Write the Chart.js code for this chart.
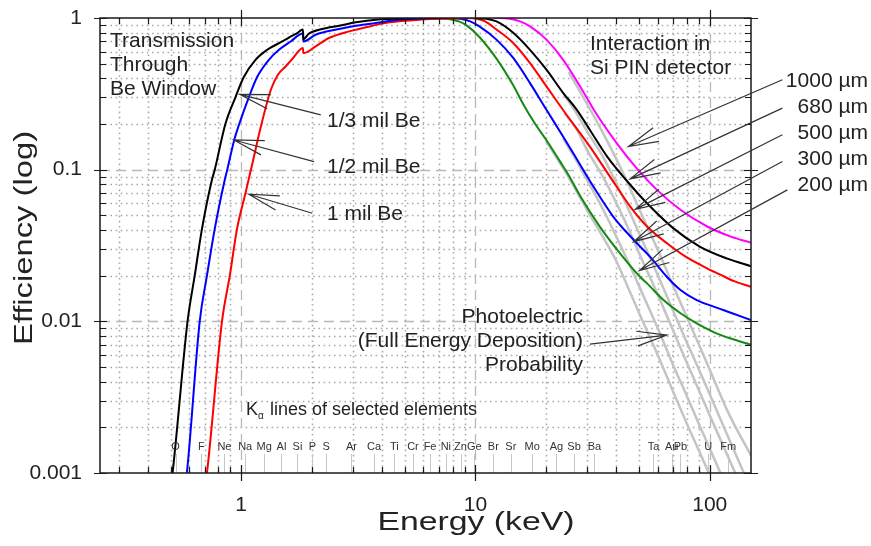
<!DOCTYPE html>
<html><head><meta charset="utf-8">
<script src="https://cdn.jsdelivr.net/npm/chart.js@4.4.0/dist/chart.umd.min.js"></script>
<style>html,body{margin:0;padding:0;background:#fff}</style>
</head><body>
<canvas id="c" width="871" height="546" style="display:block;width:871px;height:546px"></canvas>
<script>
// ---------- DATA (energy in keV, efficiency) ----------
// Transmission through Be window
const be13E   = [0.50,0.51,0.591,0.634,0.681,0.751,0.772,0.857,0.946,1.027,1.152,1.292,1.498,1.654,1.737,1.835,1.845,1.95,2.22,2.62,3.09,3.76,5.2,7.0];
const be13Eff = [0.0008,0.001,0.01,0.02,0.0407,0.0857,0.1,0.2,0.3,0.408,0.53,0.617,0.70,0.764,0.796,0.84,0.725,0.79,0.846,0.889,0.936,0.975,0.995,1.0];
const be12E   = [0.575,0.587,0.666,0.715,0.772,0.852,0.873,0.935,0.982,1.079,1.171,1.314,1.451,1.627,1.835,1.845,2.08,2.62,3.09,3.76,4.73,6.36,7.5];
const be12Eff = [0.0008,0.001,0.01,0.02,0.0407,0.0857,0.1,0.157,0.2,0.3,0.408,0.53,0.617,0.70,0.79,0.70,0.776,0.846,0.889,0.927,0.975,0.995,1.0];
const be1E    = [0.70,0.715,0.829,0.895,0.961,1.037,1.122,1.214,1.34,1.436,1.549,1.665,1.835,1.845,2.08,2.37,2.89,3.64,4.29,5.76,8.55,10];
const be1Eff  = [0.0008,0.001,0.01,0.02,0.0407,0.0671,0.1126,0.1916,0.3363,0.4223,0.479,0.543,0.634,0.587,0.65,0.738,0.816,0.889,0.936,0.975,0.995,1.0];
// Interaction in Si PIN detector (total)
const det1000E   = [12,14,15.5,17.1,20.1,23.7,29.8,31.9,40,48,59.5,75,97.5,123,150];
const det1000Eff = [1,0.99,0.95,0.88,0.72,0.53,0.30,0.25,0.15,0.105,0.0736,0.0544,0.0422,0.0362,0.033];
const det680E    = [10,11.1,12.3,14.5,17.1,20.1,23.7,27,31,36.5,45,54,70,91,119,150];
const det680Eff  = [1,0.99,0.95,0.80,0.617,0.456,0.32,0.25,0.18,0.122,0.082,0.06,0.041,0.031,0.0259,0.0231];
const det500E    = [9,10.1,11,12.3,14.5,17.1,20.1,24,30.8,37.5,45.8,54,65.7,78,95,111,127,150];
const det500Eff  = [1,0.99,0.95,0.84,0.684,0.504,0.354,0.24,0.142,0.09,0.0571,0.0422,0.0327,0.027,0.0228,0.0203,0.0184,0.0169];
const det300E    = [7.5,8.6,9.5,10.4,12.3,14.5,17.1,20.1,23.7,26.2,31.9,38.8,47.3,55.7,65.7,75,88,104,123,150];
const det300Eff  = [1,0.99,0.95,0.88,0.72,0.545,0.372,0.248,0.165,0.128,0.0773,0.0489,0.0345,0.0266,0.0196,0.0161,0.0138,0.0125,0.0114,0.0102];
const det200E    = [6.5,7.5,8.5,9.2,10.4,12.3,14.5,16,18,20,23,25,28,34,41.5,50.5,54,63.5,75,88,104,123,150];
const det200Eff  = [1,0.99,0.95,0.89,0.75,0.54,0.36,0.27,0.20,0.158,0.113,0.092,0.067,0.042,0.028,0.0196,0.0178,0.0138,0.0113,0.0097,0.0085,0.0077,0.0070];
// Photoelectric (full energy deposition) probability
const pe1000E   = [25,30,35,40,45.6,50,60,70,80,90,100,120,150];
const pe1000Eff = [0.44,0.27,0.175,0.117,0.076,0.055,0.0296,0.017,0.0106,0.007,0.0048,0.0025,0.0013];
const pe680E    = [24,27,30,35,40,45.6,50,60,70,80,90,100,120,150];
const pe680Eff  = [0.31,0.235,0.178,0.122,0.081,0.0524,0.038,0.0202,0.0116,0.0072,0.0048,0.0033,0.00172,0.00078];
const pe500E    = [24,27,30,35,40,45.6,50,60,70,80,90,100,120,150];
const pe500Eff  = [0.235,0.185,0.134,0.09,0.06,0.039,0.028,0.015,0.0086,0.0053,0.0035,0.0024,0.00127,0.00058];
const pe300E    = [23.7,26.2,30,35,40,45.6,50,60,70,80,90,100,120,150];
const pe300Eff  = [0.16,0.124,0.085,0.055,0.036,0.0234,0.017,0.009,0.0051,0.0032,0.0021,0.00145,0.00076,0.00035];
const pe200E    = [20,25,30,35,40,45.6,50,60,70,80,90,100,120];
const pe200Eff  = [0.155,0.089,0.054,0.036,0.0248,0.0157,0.0113,0.006,0.0034,0.0021,0.0014,0.00097,0.0005];
// K-alpha lines of selected elements
const elements = ['O','F','Ne','Na','Mg','Al','Si','P','S','Ar','Ca','Ti','Cr','Fe','Ni','Zn','Ge','Br','Sr','Mo','Ag','Sb','Ba','Ta','Au','Pb','U','Fm'];
const kAlpha   = [0.525,0.677,0.849,1.041,1.254,1.487,1.740,2.014,2.308,2.957,3.691,4.510,5.414,6.404,7.478,8.638,9.886,11.924,14.165,17.479,22.163,26.359,32.194,57.532,68.804,74.969,98.439,120.0];
// Axis ticks
const xTickValues = [1,10,100];
const yTickValues = [0.001,0.01,0.1,1];

// ---------- helpers ----------
const pts = (E, V) => E.map((e,i)=>({x:e, y:V[i]}));
const FONT = "'Liberation Sans', Arial, Helvetica, sans-serif";
const TXT = '#222';

function ds(E, V, color, width, order){
  return {data:pts(E,V), borderColor:color, borderWidth:width, showLine:true, pointRadius:0,
          cubicInterpolationMode:'monotone', fill:false, order:order};
}
const datasets = [
  ds(be13E, be13Eff, '#000000', 2, 1),
  ds(be12E, be12Eff, '#0000ff', 2, 1),
  ds(be1E,  be1Eff,  '#ff0000', 2, 1),
  ds(det1000E, det1000Eff, '#ff00ff', 2, 1),
  ds(det680E,  det680Eff,  '#000000', 2, 1),
  ds(det500E,  det500Eff,  '#ff0000', 2, 1),
  ds(det300E,  det300Eff,  '#0000ff', 2, 1),
  ds(det200E,  det200Eff,  '#138a13', 2, 1),
  ds(pe1000E, pe1000Eff, '#c4c4c4', 2.5, 2),
  ds(pe680E,  pe680Eff,  '#c4c4c4', 2.5, 2),
  ds(pe500E,  pe500Eff,  '#c4c4c4', 2.5, 2),
  ds(pe300E,  pe300Eff,  '#c4c4c4', 2.5, 2),
  ds(pe200E,  pe200Eff,  '#c4c4c4', 2.5, 2)
];

// Annotation layout (pixels for text, data coords for arrows)
const texts = [
  {t:'Transmission', x:110, y:47, a:'left'},
  {t:'Through', x:110, y:71, a:'left'},
  {t:'Be Window', x:110, y:95, a:'left'},
  {t:'Interaction in', x:590, y:50, a:'left'},
  {t:'Si PIN detector', x:590, y:74, a:'left'},
  {t:'1/3 mil Be', x:327, y:127, a:'left'},
  {t:'1/2 mil Be', x:327, y:173, a:'left'},
  {t:'1 mil Be', x:327, y:220, a:'left'},
  {t:'1000 \u00b5m', x:868, y:87, a:'right'},
  {t:'680 \u00b5m', x:868, y:113, a:'right'},
  {t:'500 \u00b5m', x:868, y:139, a:'right'},
  {t:'300 \u00b5m', x:868, y:165, a:'right'},
  {t:'200 \u00b5m', x:868, y:191, a:'right'},
  {t:'Photoelectric', x:583, y:323, a:'right'},
  {t:'(Full Energy Deposition)', x:583, y:347, a:'right'},
  {t:'Probability', x:583, y:371, a:'right'}
];
const arrows = [ // tip [E,eff] , tail [E,eff]
  {tip:[0.987,0.314], tail:[2.188,0.230]},
  {tip:[0.931,0.157], tail:[2.048,0.1131]},
  {tip:[1.079,0.0689], tail:[2.014,0.0516]},
  {tip:[44.99,0.142], tail:[204.2,0.3916]},
  {tip:[45.76,0.0870], tail:[204.2,0.2546]},
  {tip:[48.07,0.0547], tail:[204.2,0.1697]},
  {tip:[47.36,0.0335], tail:[204.2,0.1131]},
  {tip:[50.14,0.02164], tail:[214.5,0.0736]},
  {tip:[65.7,0.00812], tail:[30.84,0.00708]}
];

function minorVals(min, max){
  const out=[]; for (let d=1e-4; d<1e4; d*=10){ for(let k=2;k<=9;k++){const v=+(k*d).toPrecision(3); if(v>min&&v<max) out.push(v);} } return out;
}

const framePlugin = {
  id:'frame',
  beforeDatasetsDraw(chart){
    const {ctx, chartArea:a, scales:{x,y}} = chart;
    ctx.save();
    ctx.beginPath(); ctx.rect(a.left,a.top,a.right-a.left,a.bottom-a.top); ctx.clip();
    // minor dotted grid
    ctx.strokeStyle='#ababab'; ctx.lineWidth=1.6; ctx.setLineDash([1.6,3.6]);
    ctx.beginPath();
    for(const v of minorVals(x.min,x.max)){const p=Math.round(x.getPixelForValue(v))+0.5; ctx.moveTo(p,a.top); ctx.lineTo(p,a.bottom);}
    for(const v of minorVals(y.min,y.max)){const p=Math.round(y.getPixelForValue(v))+0.5; ctx.moveTo(a.left,p); ctx.lineTo(a.right,p);}
    ctx.stroke();
    // major dashed grid
    ctx.strokeStyle='#b9b9b9'; ctx.lineWidth=1.3; ctx.setLineDash([10,6]);
    ctx.beginPath();
    for(const v of xTickValues){const p=Math.round(x.getPixelForValue(v))+0.5; ctx.moveTo(p,a.top); ctx.lineTo(p,a.bottom);}
    for(const v of yTickValues){ if(v<=y.min||v>=y.max) continue; const p=Math.round(y.getPixelForValue(v))+0.5; ctx.moveTo(a.left,p); ctx.lineTo(a.right,p);}
    ctx.stroke();
    ctx.setLineDash([]);
    // K-alpha marker lines
    ctx.strokeStyle='#c6c6c6'; ctx.lineWidth=1;
    ctx.beginPath();
    kAlpha.forEach(e=>{const p=Math.round(x.getPixelForValue(e))+0.5; ctx.moveTo(p,a.bottom); ctx.lineTo(p,a.bottom-19);});
    ctx.stroke();
    ctx.restore();
  },
  afterDatasetsDraw(chart){
    const {ctx, chartArea:a, scales:{x,y}} = chart;
    ctx.save();
    // element labels
    ctx.fillStyle='#333'; ctx.font='11px '+FONT; ctx.textAlign='center'; ctx.textBaseline='alphabetic';
    elements.forEach((el,i)=>{ctx.fillText(el, x.getPixelForValue(kAlpha[i]), a.bottom-23);});
    // frame
    ctx.strokeStyle='#1a1a1a'; ctx.lineWidth=1.5;
    ctx.strokeRect(a.left, a.top, a.right-a.left, a.bottom-a.top);
    // tick marks
    ctx.lineWidth=1.2; ctx.beginPath();
    for(const v of minorVals(x.min,x.max)){const p=Math.round(x.getPixelForValue(v))+0.5; ctx.moveTo(p,a.bottom); ctx.lineTo(p,a.bottom-6); ctx.moveTo(p,a.top); ctx.lineTo(p,a.top+6);}
    for(const v of xTickValues){const p=Math.round(x.getPixelForValue(v))+0.5; ctx.moveTo(p,a.bottom+8); ctx.lineTo(p,a.bottom-8); ctx.moveTo(p,a.top-8); ctx.lineTo(p,a.top+8);}
    for(const v of minorVals(y.min,y.max)){const p=Math.round(y.getPixelForValue(v))+0.5; ctx.moveTo(a.left,p); ctx.lineTo(a.left+6,p); ctx.moveTo(a.right,p); ctx.lineTo(a.right-6,p);}
    for(const v of yTickValues){const p=Math.round(y.getPixelForValue(v))+0.5; ctx.moveTo(a.left-6,p); ctx.lineTo(a.left+7,p); ctx.moveTo(a.right+7,p); ctx.lineTo(a.right-7,p);}
    ctx.stroke();
    // annotation texts
    ctx.fillStyle=TXT; ctx.font='21px '+FONT;
    texts.forEach(o=>{ctx.textAlign=o.a; ctx.fillText(o.t,o.x,o.y);});
    // K-alpha title
    ctx.textAlign='left'; ctx.font='18px '+FONT; ctx.fillText('K', 246, 415);
    ctx.font='10px '+FONT; ctx.fillText('\u03b1', 258, 419);
    ctx.font='18px '+FONT; ctx.fillText('lines of selected elements', 270, 415);
    // arrows
    ctx.strokeStyle='#333'; ctx.lineWidth=1.2;
    arrows.forEach(ar=>{
      const tx=x.getPixelForValue(ar.tip[0]), ty=y.getPixelForValue(ar.tip[1]);
      const sx=x.getPixelForValue(ar.tail[0]), sy=y.getPixelForValue(ar.tail[1]);
      const ang=Math.atan2(sy-ty, sx-tx), L=31, h=0.24;
      ctx.beginPath();
      ctx.moveTo(sx,sy); ctx.lineTo(tx,ty);
      ctx.moveTo(tx+L*Math.cos(ang-h), ty+L*Math.sin(ang-h)); ctx.lineTo(tx,ty);
      ctx.lineTo(tx+L*Math.cos(ang+h), ty+L*Math.sin(ang+h));
      ctx.stroke();
    });
    // axis titles
    ctx.fillStyle=TXT; ctx.font='26px '+FONT; ctx.textAlign='center'; ctx.textBaseline='middle';
    ctx.save(); ctx.translate(476, 523); ctx.scale(1.3,1); ctx.fillText('Energy (keV)', 0, 0); ctx.restore();
    ctx.save(); ctx.translate(25, 238); ctx.rotate(-Math.PI/2); ctx.scale(1.26,1); ctx.fillText('Efficiency (log)', 0, 0); ctx.restore();
    ctx.restore();
  }
};

Chart.defaults.font.family = FONT;
new Chart(document.getElementById('c'), {
  type:'scatter',
  data:{datasets},
  options:{
    responsive:false, animation:false, devicePixelRatio:1,
    layout:{padding:{top:18, right:120, left:0, bottom:0}},
    plugins:{legend:{display:false}, tooltip:{enabled:false}, title:{display:false}},
    scales:{
      x:{type:'logarithmic', min:0.25, max:150,
         afterFit(s){ s.height = 73; s.paddingLeft = 0; s.paddingRight = 0; },
         afterBuildTicks(s){ s.ticks = xTickValues.map(v=>({value:v})); },
         grid:{display:false, drawTicks:false}, border:{display:false},
         ticks:{font:{size:21}, color:TXT, padding:20, maxRotation:0, autoSkip:false, callback:(v)=>String(v)}},
      y:{type:'logarithmic', min:0.001, max:1,
         afterFit(s){ s.width = 100; s.paddingTop = 0; s.paddingBottom = 0; },
         afterBuildTicks(s){ s.ticks = yTickValues.map(v=>({value:v})); },
         grid:{display:false, drawTicks:false}, border:{display:false},
         ticks:{font:{size:21}, color:TXT, padding:18, autoSkip:false, callback:(v)=>String(v)}}
    }
  },
  plugins:[framePlugin]
});
</script>
</body></html>
